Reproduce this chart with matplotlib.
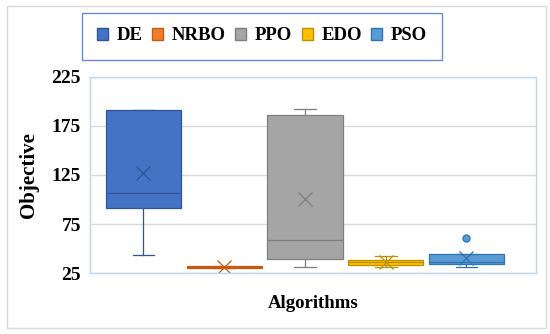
import matplotlib
matplotlib.use("Agg")
import matplotlib.pyplot as plt
from matplotlib.patches import Patch, Rectangle

algorithms = ["DE", "NRBO", "PPO", "EDO", "PSO"]
q1 = [91.7, 30.6, 39.8, 33.0, 34.1]
median = [106.9, 31.7, 58.5, 36.0, 36.5]
q3 = [191.0, 32.8, 185.9, 38.9, 44.9]
whislo = [43.3, 30.6, 31.7, 31.7, 31.4]
whishi = [191.0, 32.8, 192.0, 42.5, 44.9]
means = [127.2, 31.5, 100.2, 36.0, 40.2]
outliers = [[], [], [], [], [60.6]]

fills = ["#4472C4", "#ED7D31", "#A5A5A5", "#FFC000", "#5B9BD5"]
edges = ["#2F5597", "#C55A11", "#7F7F7F", "#BF9000", "#2E75B6"]

yticks = [25, 75, 125, 175, 225]

serif = ["Liberation Serif", "DejaVu Serif"]
plt.rcParams["font.family"] = serif

fig = plt.figure(figsize=(5.5, 3.34), dpi=100)
ax = fig.add_axes([90/550, 1-273.3/334, (536-90)/550, (273.3-76.5)/334])

# outer border
fig.patches.append(Rectangle((7/550, 1-328/334), (546-7)/550, (328-6)/334,
                             transform=fig.transFigure, fill=False,
                             edgecolor="#D9D9D9", linewidth=1.0))

for i in range(len(algorithms)):
    stats = [dict(q1=q1[i], med=median[i], q3=q3[i], whislo=whislo[i],
                  whishi=whishi[i], mean=means[i], fliers=outliers[i])]
    ax.bxp(stats, positions=[i], widths=0.93, capwidths=0.27,
           patch_artist=True, showmeans=True, showfliers=True,
           boxprops=dict(facecolor=fills[i], edgecolor=edges[i], linewidth=0.9),
           medianprops=dict(color=edges[i], linewidth=0.9),
           whiskerprops=dict(color=edges[i], linewidth=0.9),
           capprops=dict(color=edges[i], linewidth=0.9),
           meanprops=dict(marker="x", markeredgecolor=edges[i], markersize=10,
                          markeredgewidth=0.9),
           flierprops=dict(marker="o", markerfacecolor=fills[i],
                           markeredgecolor=edges[i], markersize=5))

ax.set_xlim(-0.6625, 4.861)
ax.set_ylim(25, 225)
ax.set_yticks(yticks)
ax.set_yticklabels([str(v) for v in yticks], fontsize=14, fontweight="bold")
ax.set_xticks([])
ax.tick_params(axis="y", length=0, pad=6.5)
ax.yaxis.grid(True, color="#D9D9D9", linewidth=1.0)
ax.set_axisbelow(True)
for s in ax.spines.values():
    s.set_color("#BDD7EE")
    s.set_linewidth(1.0)

fig.text(29/550, 1-175/334, "Objective", rotation=90, ha="center", va="center",
         fontsize=15, fontweight="bold")
fig.text(313/550, 1-303/334, "Algorithms", ha="center", va="center",
         fontsize=13.5, fontweight="bold")

handles = [Patch(facecolor=fills[i], edgecolor=edges[i], label=algorithms[i])
           for i in range(len(algorithms))]
leg = fig.legend(handles=handles, loc="center", bbox_to_anchor=(262/550, 1-36/334),
                 ncol=5, frameon=True, fancybox=False, handlelength=0.6,
                 handleheight=0.6, handletextpad=0.45, columnspacing=0.5,
                 borderpad=0.8, borderaxespad=0,
                 prop=dict(family=serif, weight="bold", size=13.5))
leg.get_frame().set_edgecolor("#4472C4")
leg.get_frame().set_linewidth(1.0)

fig.savefig("out.png", dpi=100)
